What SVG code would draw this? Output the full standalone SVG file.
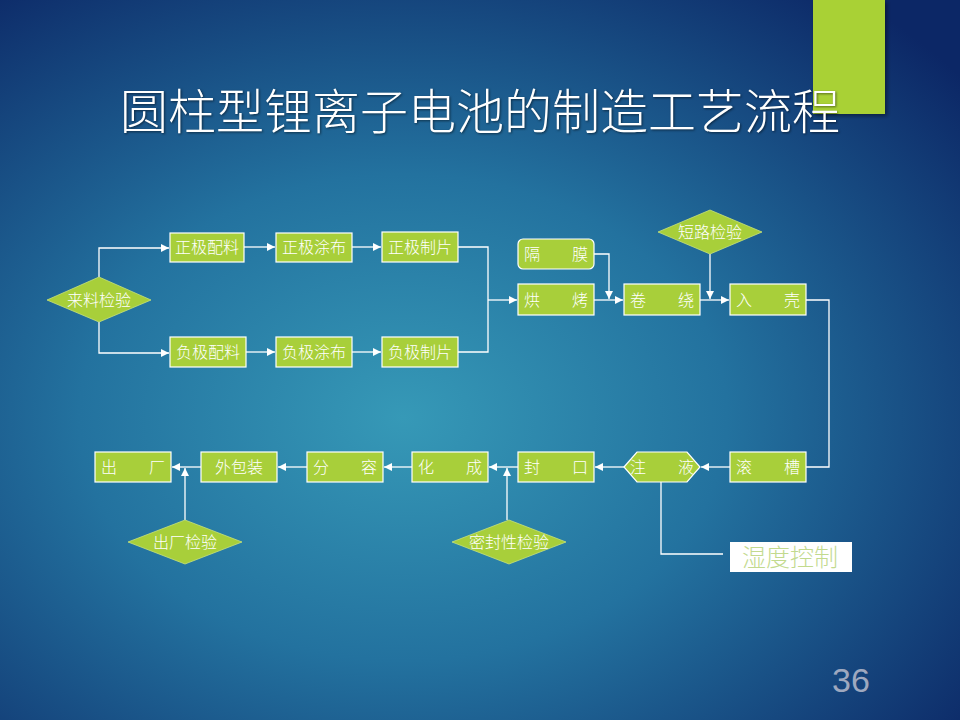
<svg xmlns="http://www.w3.org/2000/svg" width="960" height="720" viewBox="0 0 960 720">
<defs>
<radialGradient id="bg" cx="0.42" cy="0.58" r="0.75">
<stop offset="0" stop-color="#3699b7"/>
<stop offset="0.45" stop-color="#23729f"/>
<stop offset="1" stop-color="#0c2766"/>
</radialGradient>
<marker id="ar" markerWidth="9" markerHeight="8" refX="8" refY="4" orient="auto" markerUnits="userSpaceOnUse">
<path d="M0,0 L8,4 L0,8 z" fill="#ffffff"/>
</marker>
<filter id="sh" x="-10%" y="-10%" width="130%" height="130%">
<feDropShadow dx="2" dy="2" stdDeviation="2" flood-color="#000" flood-opacity="0.45"/>
</filter>
</defs>
<style>
.n{fill:#a8cf3a;stroke:#ffffff;stroke-width:1.2}
.d{fill:#a8cf3a;stroke:#c8e27a;stroke-width:0.8}
.t{font-family:"Noto Sans CJK SC","Noto Sans CJK JP",sans-serif;font-size:16px;font-weight:300;fill:#ffffff;text-anchor:middle}
.c{fill:none;stroke:#ffffff;stroke-width:1.3}
</style>
<rect width="960" height="720" fill="url(#bg)"/>
<rect x="813" y="0" width="72" height="114" fill="#a9d134" filter="url(#sh)"/>
<text x="480" y="129" font-family="Noto Sans CJK SC, sans-serif" font-weight="200" font-size="48" fill="#ffffff" text-anchor="middle" style="filter:drop-shadow(1px 1px 1px rgba(0,0,0,0.5))">圆柱型锂离子电池的制造工艺流程</text>

<g id="connectors">
<path class="c" d="M99,277 V248 H169" marker-end="url(#ar)"/>
<path class="c" d="M99,322 V353 H169" marker-end="url(#ar)"/>
<path class="c" d="M244,247 H275" marker-end="url(#ar)"/>
<path class="c" d="M352,247 H381" marker-end="url(#ar)"/>
<path class="c" d="M246,352 H275" marker-end="url(#ar)"/>
<path class="c" d="M352,352 H381" marker-end="url(#ar)"/>
<path class="c" d="M458,247 H488 V352 H458"/>
<path class="c" d="M488,300 H517" marker-end="url(#ar)"/>
<path class="c" d="M594,254 H609 V299" marker-end="url(#ar)"/>
<path class="c" d="M594,300 H623" marker-end="url(#ar)"/>
<path class="c" d="M700,300 H729" marker-end="url(#ar)"/>
<path class="c" d="M710,254 V299" marker-end="url(#ar)"/>
<path class="c" d="M806,300 H829 V467 H806"/>
<path class="c" d="M730,467 H701" marker-end="url(#ar)"/>
<path class="c" d="M624,467 H595" marker-end="url(#ar)"/>
<path class="c" d="M518,467 H489" marker-end="url(#ar)"/>
<path class="c" d="M412,467 H384" marker-end="url(#ar)"/>
<path class="c" d="M307,467 H278" marker-end="url(#ar)"/>
<path class="c" d="M201,467 H172" marker-end="url(#ar)"/>
<path class="c" d="M185,520 V468" marker-end="url(#ar)"/>
<path class="c" d="M507,520 V468" marker-end="url(#ar)"/>
<path class="c" d="M661,482 V554 H723"/>
</g>

<g id="n-laoliao"><path class="d" d="M47,300 L99,277 L151,300 L99,322 z"/><text class="t" x="99" y="306">来料检验</text></g>
<g id="n-zjpl"><rect class="n" x="170" y="233" width="74" height="29"/><text class="t" x="207" y="253">正极配料</text></g>
<g id="n-zjtb"><rect class="n" x="276" y="233" width="76" height="29"/><text class="t" x="314" y="253">正极涂布</text></g>
<g id="n-zjzp"><rect class="n" x="382" y="232" width="76" height="30"/><text class="t" x="420" y="253">正极制片</text></g>
<g id="n-fjpl"><rect class="n" x="170" y="337" width="76" height="30"/><text class="t" x="208" y="358">负极配料</text></g>
<g id="n-fjtb"><rect class="n" x="276" y="337" width="76" height="30"/><text class="t" x="314" y="358">负极涂布</text></g>
<g id="n-fjzp"><rect class="n" x="382" y="337" width="76" height="30"/><text class="t" x="420" y="358">负极制片</text></g>
<g id="n-gemo"><rect class="n" x="518" y="239" width="76" height="30" rx="5"/><text class="t" x="556" y="260" xml:space="preserve">隔　　膜</text></g>
<g id="n-hongkao"><rect class="n" x="518" y="284" width="76" height="31"/><text class="t" x="556" y="306" xml:space="preserve">烘　　烤</text></g>
<g id="n-juanrao"><rect class="n" x="624" y="284" width="76" height="31"/><text class="t" x="662" y="306" xml:space="preserve">卷　　绕</text></g>
<g id="n-ruqiao"><rect class="n" x="730" y="284" width="76" height="31"/><text class="t" x="768" y="306" xml:space="preserve">入　　壳</text></g>
<g id="n-duanlu"><path class="d" d="M658,232 L710,210 L762,232 L710,254 z"/><text class="t" x="710" y="238">短路检验</text></g>
<g id="n-guncao"><rect class="n" x="730" y="452" width="76" height="30"/><text class="t" x="768" y="473" xml:space="preserve">滚　　槽</text></g>
<g id="n-zhuye"><path class="n" d="M624,467 L637,452 L687,452 L700,467 L687,482 L637,482 z"/><text class="t" x="662" y="473" xml:space="preserve">注　　液</text></g>
<g id="n-fengkou"><rect class="n" x="518" y="452" width="76" height="30"/><text class="t" x="556" y="473" xml:space="preserve">封　　口</text></g>
<g id="n-huacheng"><rect class="n" x="412" y="452" width="76" height="30"/><text class="t" x="450" y="473" xml:space="preserve">化　　成</text></g>
<g id="n-fenrong"><rect class="n" x="307" y="452" width="76" height="30"/><text class="t" x="345" y="473" xml:space="preserve">分　　容</text></g>
<g id="n-waibaozhuang"><rect class="n" x="201" y="452" width="76" height="30"/><text class="t" x="239" y="473">外包装</text></g>
<g id="n-chuchang"><rect class="n" x="95" y="452" width="76" height="30"/><text class="t" x="133" y="473" xml:space="preserve">出　　厂</text></g>
<g id="n-ccjy"><path class="d" d="M128,542 L185,520 L242,542 L185,564 z"/><text class="t" x="185" y="548">出厂检验</text></g>
<g id="n-mfx"><path class="d" d="M452,542 L509,520 L566,542 L509,564 z"/><text class="t" x="509" y="548">密封性检验</text></g>
<g id="n-shidu"><rect x="730" y="542" width="122" height="30" fill="#ffffff"/><text x="790" y="566" font-family="Noto Sans CJK SC, sans-serif" font-size="24" font-weight="300" fill="#c2da8e" text-anchor="middle">湿度控制</text></g>
<text x="851" y="692" font-family="Liberation Sans, sans-serif" font-size="34" fill="#9ea8bf" text-anchor="middle">36</text>
</svg>
